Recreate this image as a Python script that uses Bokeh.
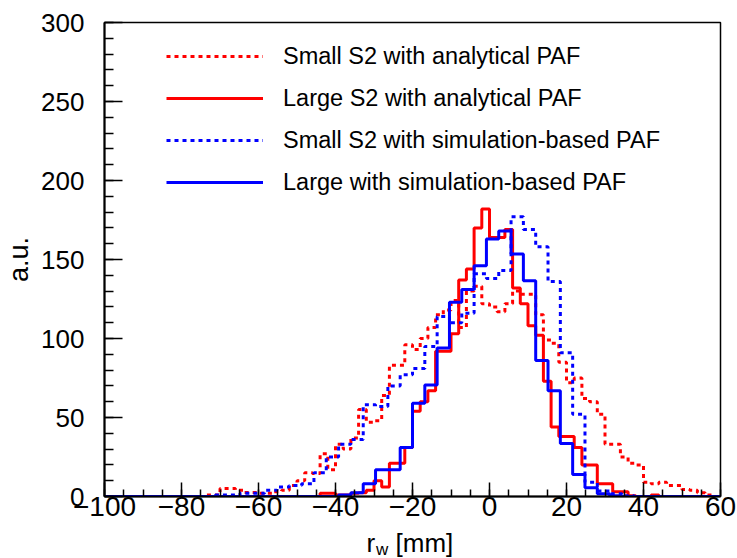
import numpy as np
from bokeh.plotting import figure
from bokeh.layouts import column
from bokeh.models import (Range1d, SingleIntervalTicker, CustomJSTickFormatter,
                          Legend, LegendItem, Label)
from bokeh.embed import file_html
from bokeh.resources import INLINE

# ---------------- data ----------------
x_min, x_max = -100, 60
# analytical PAF histograms: 80 bins of 2 mm
small_s2_analytical = [
    0, 0, 0, 0, 0, 0, 0, 0, 0, 0, 0, 0, 0,
    1, 1, 5, 5, 4, 2.5, 2.5, 2, 2, 3, 4, 7, 10, 15, 14.5, 27, 17,
    33, 30, 37, 55, 47, 48, 64, 83, 83, 96, 93, 100, 107, 115, 118, 124,
    107, 130, 133, 122, 120, 117, 122, 130, 128, 128, 115, 99, 97, 85,
    72, 75, 62, 60, 52, 33, 33, 25, 21, 20, 9, 8, 9, 7, 7, 4.5, 4, 2.4, 1, 0]
large_s2_analytical = [
    0, 0, 0, 0, 0, 0, 0, 0, 0, 0, 0, 0, 0, 0, 0, 0, 0, 0, 0, 0, 0, 0, 0, 0, 0, 0, 0, 0,
    2, 2, 1, 1, 2, 2.4, 4, 10, 6, 21, 21, 31, 54, 60, 67, 92, 92, 103,
    137, 144, 170, 182, 164, 164, 169, 132, 122, 108, 102, 73, 44, 38,
    38, 31, 20, 20, 8, 8, 3, 3, 0.5, 0, 0, 1,
    0, 0, 0, 0, 0, 0, 0, 0]
# simulation-based PAF histograms: 50 bins of 3.2 mm
small_s2_simulation = [
    0, 0, 0, 0, 0, 0, 0, 0,
    0, 1, 1, 2, 2, 4, 6, 7, 8, 15, 25, 33, 36, 58, 57, 70, 77, 81, 95,
    114, 110, 116, 141, 138, 143, 177, 169, 158, 136, 91, 52, 9, 3.5, 1.8, 0.5,
    0, 0, 0, 0, 0, 0, 0]
large_s2_simulation = [
    0, 0, 0, 0, 0, 0, 0, 0, 0, 0, 0, 0, 0, 0, 0, 0, 0, 0, 0,
    1, 2.4, 8, 17, 17, 31, 59, 70.5, 94, 123, 131, 146, 163, 168, 153.5,
    136.6, 86, 67, 33.5, 14, 5.6, 1.8, 0.5,
    0, 0, 0, 0, 0, 0, 0, 0]

series_labels = ["Small S2 with analytical PAF",
                 "Large S2 with analytical PAF",
                 "Small S2 with simulation-based PAF",
                 "Large with simulation-based PAF"]

# ---------------- figure ----------------
FONT = "Liberation Sans"
p = figure(width=737, height=528, output_backend="svg", toolbar_location=None,
           x_range=Range1d(x_min, x_max), y_range=Range1d(0, 300),
           min_border_left=104, min_border_right=17, min_border_top=22,
           min_border_bottom=32, background_fill_color="white",
           border_fill_color="white")
p.grid.visible = False
p.outline_line_color = "black"
p.outline_line_width = 1.5
p.outline_line_alpha = 1

def steps(vals):
    n = len(vals)
    edges = np.linspace(x_min, x_max, n + 1)
    return edges, np.append(np.asarray(vals, dtype=float), vals[-1])

renderers = []
for vals, color, dash in [(small_s2_analytical, "#ff0000", "4 4"),
                          (large_s2_analytical, "#ff0000", "solid"),
                          (small_s2_simulation, "#0000ff", "4 4"),
                          (large_s2_simulation, "#0000ff", "solid")]:
    ex, ey = steps(vals)
    r = p.step(x=ex, y=ey, mode="after", line_color=color, line_width=3,
               line_dash=dash)
    renderers.append(r)

# axes
minus_fmt = CustomJSTickFormatter(code="return tick < 0 ? '\u2212' + Math.abs(tick) : String(tick);")
p.xaxis.ticker = SingleIntervalTicker(interval=20, num_minor_ticks=4)
p.yaxis.ticker = SingleIntervalTicker(interval=50, num_minor_ticks=5)
p.xaxis.formatter = minus_fmt
for ax in (p.xaxis, p.yaxis):
    ax.axis_line_color = "black"
    ax.axis_line_width = 2
    ax.major_tick_line_color = "black"
    ax.minor_tick_line_color = "black"
    ax.major_tick_line_width = 1.5
    ax.minor_tick_line_width = 1.5
    ax.major_tick_out = 0
    ax.minor_tick_out = 0
    ax.major_label_text_font = FONT
    ax.major_label_text_color = "black"
    ax.axis_label_text_font = FONT
    ax.axis_label_text_font_size = "27px"
    ax.axis_label_text_font_style = "normal"
    ax.axis_label_text_color = "black"
p.xaxis.major_label_text_font_size = "28px"
p.yaxis.major_label_text_font_size = "26px"
p.xaxis.major_tick_in = 14
p.xaxis.minor_tick_in = 7
p.yaxis.major_tick_in = 18
p.yaxis.minor_tick_in = 9
p.xaxis.major_label_standoff = 0
p.yaxis.major_label_standoff = 20
p.yaxis.axis_label = "a.u."
p.yaxis.axis_label_standoff = 4

legend = Legend(items=[LegendItem(label=lab, renderers=[r])
                       for lab, r in zip(series_labels, renderers)],
                location=(62, 293), glyph_width=97, glyph_height=42,
                label_height=42, spacing=0, padding=0, margin=0,
                label_standoff=20, label_text_font=FONT,
                label_text_font_size="23.5px", label_text_color="black",
                border_line_alpha=0, background_fill_alpha=0)
p.add_layout(legend)

# strip below the plot carrying the x axis title  r_w [mm]
# (its frame is aligned with the main frame, so x is measured from x = -100)
t = figure(width=737, height=30, output_backend="svg", toolbar_location=None,
           x_range=Range1d(0, 1), y_range=Range1d(0, 1),
           min_border_left=104, min_border_right=17, min_border_top=0,
           min_border_bottom=0, background_fill_color="white",
           border_fill_color="white")
t.axis.visible = False
t.grid.visible = False
t.outline_line_color = None
common = dict(x_units="screen", y_units="screen", text_font=FONT,
              text_color="black", text_baseline="bottom")
t.add_layout(Label(x=262, y=1, text="r", text_font_size="26px", **common))
t.add_layout(Label(x=271.5, y=0, text="w", text_font_size="17px", **common))
t.add_layout(Label(x=291, y=1, text="[mm]", text_font_size="26px", **common))

layout = column(p, t, spacing=0)
open("out.html", "w").write(file_html(layout, INLINE))
